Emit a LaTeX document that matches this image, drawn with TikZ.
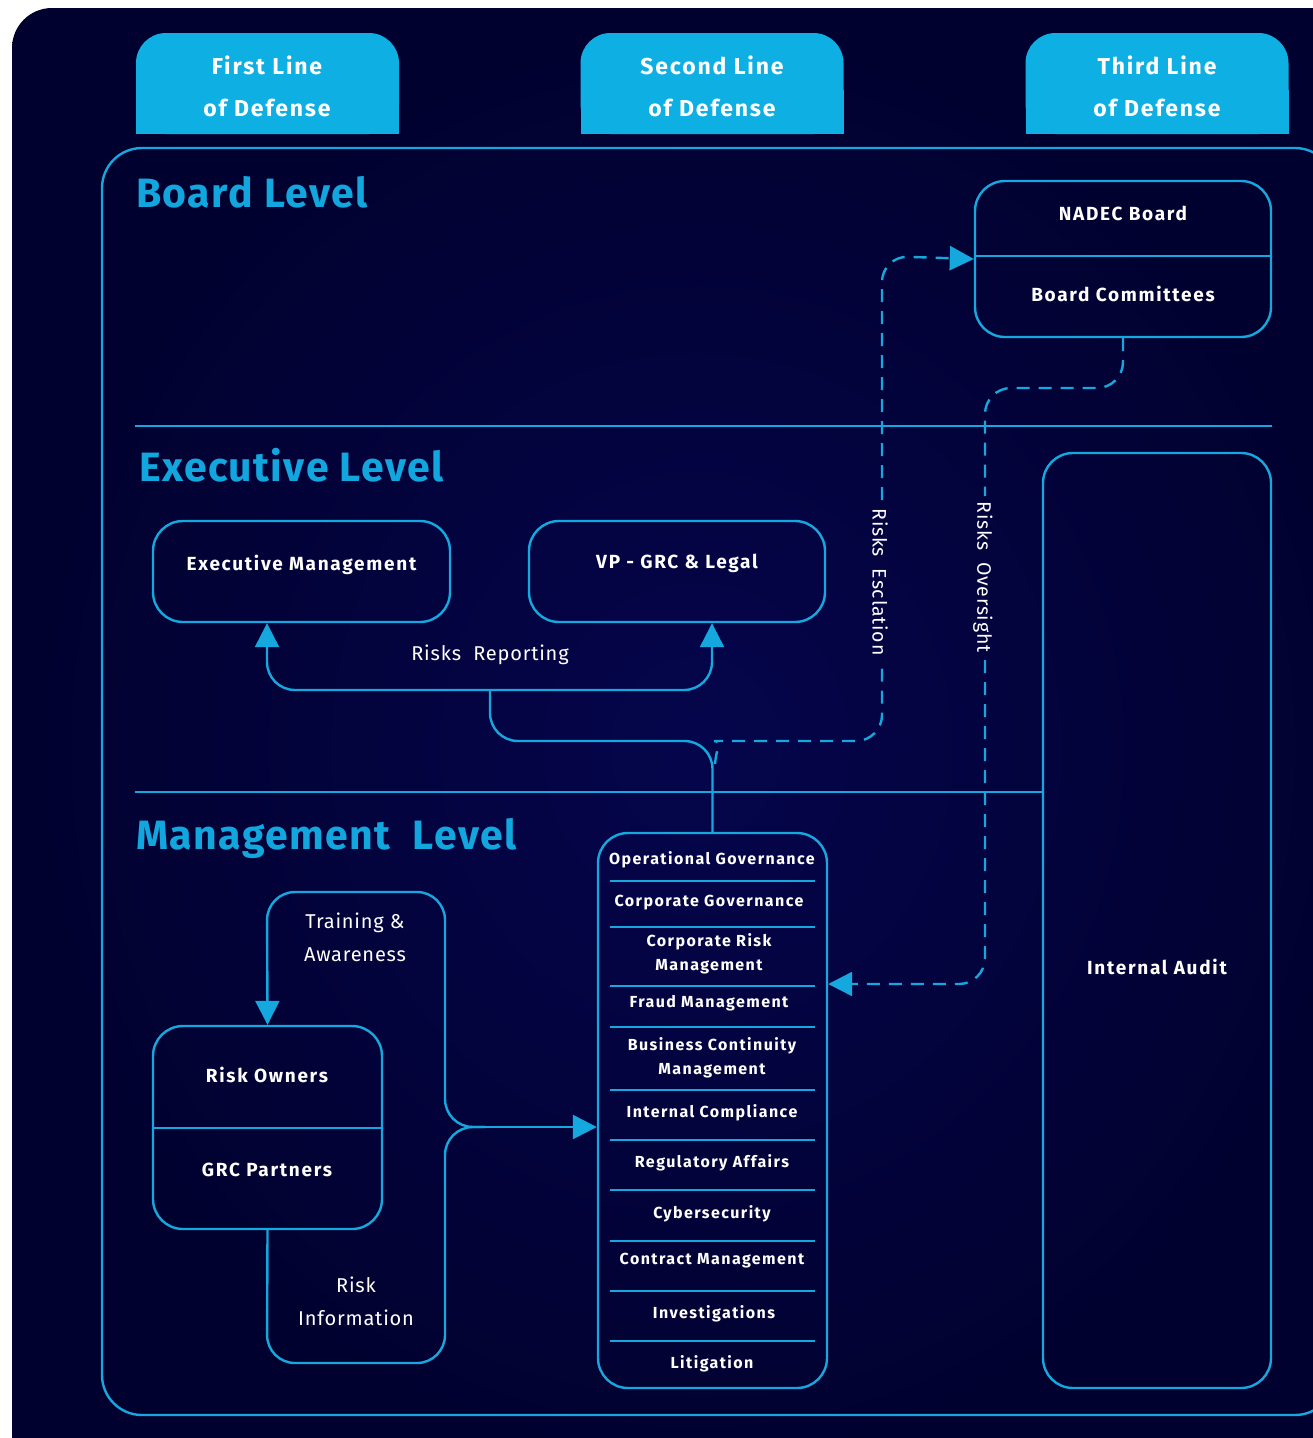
\documentclass[tikz,border=0pt]{standalone}
\usepackage{fontspec}
\setmainfont{Fira Sans}
\newfontfamily\spaced[LetterSpace=4.0]{Fira Sans}
\newfontfamily\wide[LetterSpace=9.0]{Fira Sans}
\newfontfamily\tabfont[LetterSpace=8.0]{Fira Sans}
\newfontfamily\ttlfont[LetterSpace=3.5]{Fira Sans}
\usetikzlibrary{arrows.meta}
\definecolor{bgin}{HTML}{05054C}
\definecolor{bgout}{HTML}{01012F}
\definecolor{cy}{HTML}{14A8DE}
\definecolor{tabc}{HTML}{0EAFE3}
\definecolor{ttl}{HTML}{12A6DF}
\begin{document}
\begin{tikzpicture}[x=1pt,y=-1pt,
  ln/.style={draw=cy,line width=2.4pt},
  dln/.style={draw=cy,line width=2.4pt,dash pattern=on 13pt off 9pt},
  tip/.style={-{Triangle[length=24pt,width=24pt]}},
  boxnode/.style={draw=cy,line width=2.4pt,rounded corners=30pt,inner sep=0pt},
  tabnode/.style={fill=tabc,rounded corners=30pt,inner sep=0pt,minimum width=263pt,minimum height=101pt},
  tabtxt/.style={text=white,inner sep=0pt,font=\tabfont\fontsize{23}{26}\selectfont\bfseries},
  lvl/.style={text=ttl,inner sep=0pt,anchor=west,font=\ttlfont\fontsize{41}{46}\selectfont\bfseries},
  btxt/.style={text=white,inner sep=0pt,font=\wide\fontsize{19}{22}\selectfont\bfseries},
  gtxt/.style={text=white,inner sep=0pt,align=center,font=\wide\fontsize{16}{24}\selectfont\bfseries},
  ltxt/.style={text=white,inner sep=0pt,align=center,font=\spaced\fontsize{20}{33}\selectfont},
  vtxt/.style={text=white,inner sep=0pt,rotate=-90,font=\spaced\fontsize{19.5}{24}\selectfont}]
\useasboundingbox (0,0) rectangle (1313,1438);
\fill[white] (0,0) rectangle (1313,1438);
\shade[rounded corners=40pt,inner color=bgin,outer color=bgout] (12,8) rectangle (1380,1490);

% header tabs
\node[tabnode] (tab1) at (267.5,83.5) {};
\node[tabnode] (tab2) at (712,83.5) {};
\node[tabnode] (tab3) at (1157,83.5) {};
\fill[tabc] (136,90) rectangle (399,134);
\fill[tabc] (580.5,90) rectangle (843.5,134);
\fill[tabc] (1025.5,90) rectangle (1288.5,134);
\node[tabtxt] (t1a) at (267,65) {First Line};
\node[tabtxt] (t1b) at (267,108) {of Defense};
\node[tabtxt] (t2a) at (712,65) {Second Line};
\node[tabtxt] (t2b) at (712,108) {of Defense};
\node[tabtxt] (t3a) at (1157,65) {Third Line};
\node[tabtxt] (t3b) at (1157,108) {of Defense};

% main frame
\draw[ln,rounded corners=40pt] (102,148) rectangle (1335,1415);

% level titles
\node[lvl] (lb) at (136,192) {Board Level};
\node[lvl] (le) at (139,465) {Executive Level};
\node[lvl] (lm) at (136,838) {Management\ \ Level};

% boxes
\node[boxnode,minimum width=296pt,minimum height=156pt] (nadec) at (1123,259) {};
\draw[ln] (975,256) -- (1271,256);
\node[btxt] (nb) at (1123,213) {NADEC Board};
\node[btxt] (bc) at (1123,294) {Board Committees};

\node[boxnode,minimum width=297pt,minimum height=101pt] (exec) at (301.5,571.5) {};
\node[btxt] (extx) at (301.5,565) {Executive Management};
\node[boxnode,minimum width=296pt,minimum height=101pt] (vp) at (677,571.5) {};
\node[btxt] (vptx) at (677,563) {VP - GRC \& Legal};

\node[boxnode,minimum width=228pt,minimum height=935pt] (ia) at (1157,920.5) {};
\node[btxt] (iatx) at (1157,967) {Internal Audit};

\node[boxnode,minimum width=229pt,minimum height=203pt] (ro) at (267.5,1127.5) {};
\draw[ln] (153,1128) -- (382,1128);
\node[btxt] (rotx) at (267,1075) {Risk Owners};
\node[btxt] (grtx) at (267,1170) {GRC Partners};

\node[boxnode,minimum width=229pt,minimum height=555pt] (gov) at (712.5,1110.5) {};
\foreach \yy in {881,927,986,1027,1090,1140,1190,1241,1291,1341}
  \draw[ln] (610,\yy) -- (815,\yy);
\node[gtxt] (g1) at (712,860) {Operational Governance};
\node[gtxt] (g2) at (709,903) {Corporate Governance};
\node[gtxt] (g3) at (709,954) {Corporate Risk\\Management};
\node[gtxt] (g4) at (709,1003) {Fraud Management};
\node[gtxt] (g5) at (712,1058) {Business Continuity\\Management};
\node[gtxt] (g6) at (712,1113) {Internal Compliance};
\node[gtxt] (g7) at (712,1163) {Regulatory Affairs};
\node[gtxt] (g8) at (712,1214) {Cybersecurity};
\node[gtxt] (g9) at (712,1261) {Contract Management};
\node[gtxt] (g10) at (714,1314) {Investigations};
\node[gtxt] (g11) at (712,1364) {Litigation};

% level separators
\draw[ln] (135,426) -- (1272,426);
\draw[ln] (135,792) -- (ia.west |- 0,792);

% risks reporting
\coordinate (rj) at (490,741);
\coordinate (rs) at (490,690);
\coordinate (rl) at (267,690);
\coordinate (rr) at (712,690);
\draw[ln,rounded corners=28pt] (gov.north) -- (gov.north |- rj) -- (rj) -- (rs);
\draw[ln,tip,rounded corners=28pt] (rs) -- (rl) -- (rl |- exec.south);
\draw[ln,tip,rounded corners=28pt] (rs) -- (rr) -- (rr |- vp.south);
\node[ltxt] (rrl) at (490,655) {Risks\ \ Reporting};

% risks escalation
\coordinate (e0) at (715,764);
\coordinate (e1) at (882,741);
\coordinate (e2) at (882,664);
\coordinate (e3) at (882,500);
\coordinate (e4) at (882,256);
\draw[dln,rounded corners=26pt] (e0) .. controls (716,750) and (722,741) .. (740,741) -- (e1) -- (e2);
\draw[dln,tip,rounded corners=26pt] (e3) -- (e4) -- (nadec.west);
\node[vtxt] (esc) at (880,582) {Risks\ \ Esclation};

% risks oversight
\coordinate (o1) at (1123,388);
\coordinate (o2) at (985,388);
\coordinate (o3) at (985,496);
\coordinate (o4) at (985,660);
\coordinate (o5) at (985,984);
\draw[dln,rounded corners=26pt] (nadec.south) -- (o1) -- (o2) -- (o3);
\draw[dln,tip,rounded corners=26pt] (o4) -- (o5) -- (gov.east |- o5);
\node[vtxt] (ovs) at (983,577) {Risks\ \ Oversight};

% management loops
\coordinate (jm) at (485,1127);
\coordinate (jc) at (445,1127);
\draw[ln,tip] (jm) -- (gov.west |- jm);
\draw[ln,tip,rounded corners=28pt] (jm) -- (jc) -- (445,892) -- (267,892) -- (ro.north);
\draw[ln,rounded corners=28pt] (jm) -- (jc) -- (445,1363) -- (267,1363) -- (ro.south);
\node[ltxt] (tra) at (355,937) {Training \&\\Awareness};
\node[ltxt] (rin) at (356,1301) {Risk\\Information};
\end{tikzpicture}
\end{document}
